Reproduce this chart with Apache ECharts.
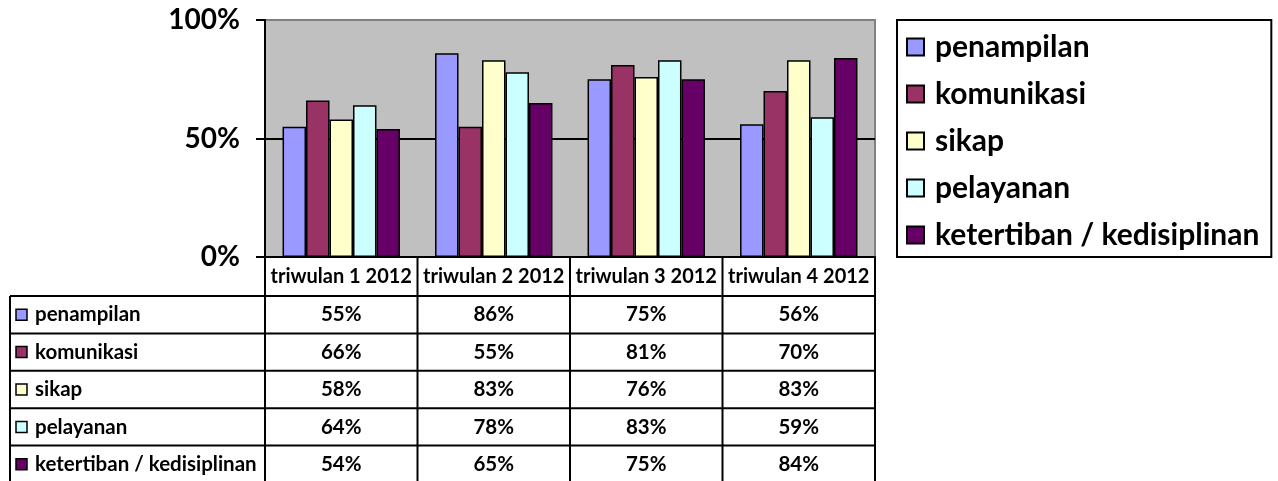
<!DOCTYPE html>
<html>
<head>
<meta charset="utf-8">
<script src="https://cdn.jsdelivr.net/npm/echarts@6/dist/echarts.min.js"></script>
<style>html,body{margin:0;padding:0;background:#fff;}#c{width:1278px;height:481px;}</style>
</head>
<body>
<div id="c"></div>
<script>
const categories = ['triwulan 1 2012', 'triwulan 2 2012', 'triwulan 3 2012', 'triwulan 4 2012'];
const seriesNames = ['penampilan', 'komunikasi', 'sikap', 'pelayanan', 'ketertiban / kedisiplinan'];
const penampilan = [0.55, 0.86, 0.75, 0.56];
const komunikasi = [0.66, 0.55, 0.81, 0.70];
const sikap = [0.58, 0.83, 0.76, 0.83];
const pelayanan = [0.64, 0.78, 0.83, 0.59];
const ketertiban = [0.54, 0.65, 0.75, 0.84];
const seriesValues = [penampilan, komunikasi, sikap, pelayanan, ketertiban];
const colors = ['#9999FF', '#993366', '#FFFFCC', '#CCFFFF', '#660066'];

const FONT = 'Lato';
const G = { left: 265, right: 403, top: 20, bottom: 224 };
const W = 1278, H = 481;
const plotL = G.left, plotR = W - G.right, plotB = H - G.bottom;
const headerH = 39, rowH = 37.4, tableL = 10;

const pct = v => Math.round(v * 100) + '%';

const chart = echarts.init(document.getElementById('c'), null, { renderer: 'canvas' });

const series = seriesNames.map((name, i) => ({
  name: name,
  type: 'bar',
  data: seriesValues[i],
  barGap: '0%',
  barCategoryGap: '23%',
  itemStyle: { color: colors[i], borderColor: '#000', borderWidth: 1.5 },
  emphasis: { disabled: true },
  animation: false
}));

chart.setOption({
  animation: false,
  grid: { left: G.left, right: G.right, top: G.top, bottom: G.bottom, show: true, backgroundColor: '#C0C0C0', borderColor: '#808080', borderWidth: 2 },
  legend: {
    orient: 'vertical', left: 897, top: 20,
    data: seriesNames,
    icon: 'rect',
    itemWidth: 17, itemHeight: 17, itemGap: 17,
    padding: [12, 12, 7, 9],
    borderColor: '#000', borderWidth: 2,
    selectedMode: false,
    textStyle: { fontFamily: FONT, fontWeight: 'bold', fontSize: 30, color: '#000', padding: [0, 0, 0, 6] }
  },
  xAxis: {
    type: 'category', data: categories,
    axisLine: { lineStyle: { color: '#000', width: 2 } },
    axisTick: { show: false },
    axisLabel: { show: false }
  },
  yAxis: {
    type: 'value', min: 0, max: 1, interval: 0.5,
    axisLine: { show: true, lineStyle: { color: '#000', width: 2 } },
    axisTick: { show: true, length: 9, lineStyle: { color: '#000', width: 2 } },
    axisLabel: { margin: 25, formatter: v => Math.round(v * 100) + '%', fontFamily: FONT, fontWeight: 'bold', fontSize: 28, color: '#000' },
    splitLine: { show: true, lineStyle: { color: ['#000', '#000', '#808080'], width: 2 } }
  },
  series: series
});

// Data table built beneath the axis, aligned to category positions
function buildTable() {
  const els = [];
  const colW = (plotR - plotL) / categories.length;
  const line = (x1, y1, x2, y2) => ({ type: 'line', shape: { x1, y1, x2, y2 }, style: { stroke: '#000', lineWidth: 2 }, silent: true });
  const top = plotB + headerH;
  for (let i = 0; i <= categories.length; i++) {
    const x = plotL + i * colW;
    els.push(line(x, plotB, x, H + 5));
  }
  els.push(line(tableL, top, tableL, H + 5));
  for (let r = 0; r < seriesNames.length; r++) {
    const y = top + r * rowH;
    els.push(line(tableL, y, plotR, y));
  }
  categories.forEach(c => {
    const cx = chart.convertToPixel({ xAxisIndex: 0 }, c);
    els.push({ type: 'text', x: cx, y: plotB + headerH / 2, style: { text: c, font: 'bold 20px ' + FONT, fill: '#000', textAlign: 'center', textVerticalAlign: 'middle' }, silent: true });
  });
  seriesNames.forEach((name, r) => {
    const cy = top + r * rowH + rowH / 2;
    els.push({ type: 'rect', shape: { x: 16, y: cy - 5.5, width: 11, height: 11 }, style: { fill: colors[r], stroke: '#000', lineWidth: 1.5 }, silent: true });
    els.push({ type: 'text', x: 35, y: cy, style: { text: name, font: 'bold 20.5px ' + FONT, fill: '#000', textVerticalAlign: 'middle', textAlign: 'left' }, silent: true });
    categories.forEach((c, ci) => {
      const cx = chart.convertToPixel({ xAxisIndex: 0 }, c);
      els.push({ type: 'text', x: cx, y: cy, style: { text: pct(seriesValues[r][ci]), font: 'bold 20.5px ' + FONT, fill: '#000', textAlign: 'center', textVerticalAlign: 'middle' }, silent: true });
    });
  });
  return els;
}
chart.setOption({ graphic: buildTable() });
</script>
</body>
</html>
